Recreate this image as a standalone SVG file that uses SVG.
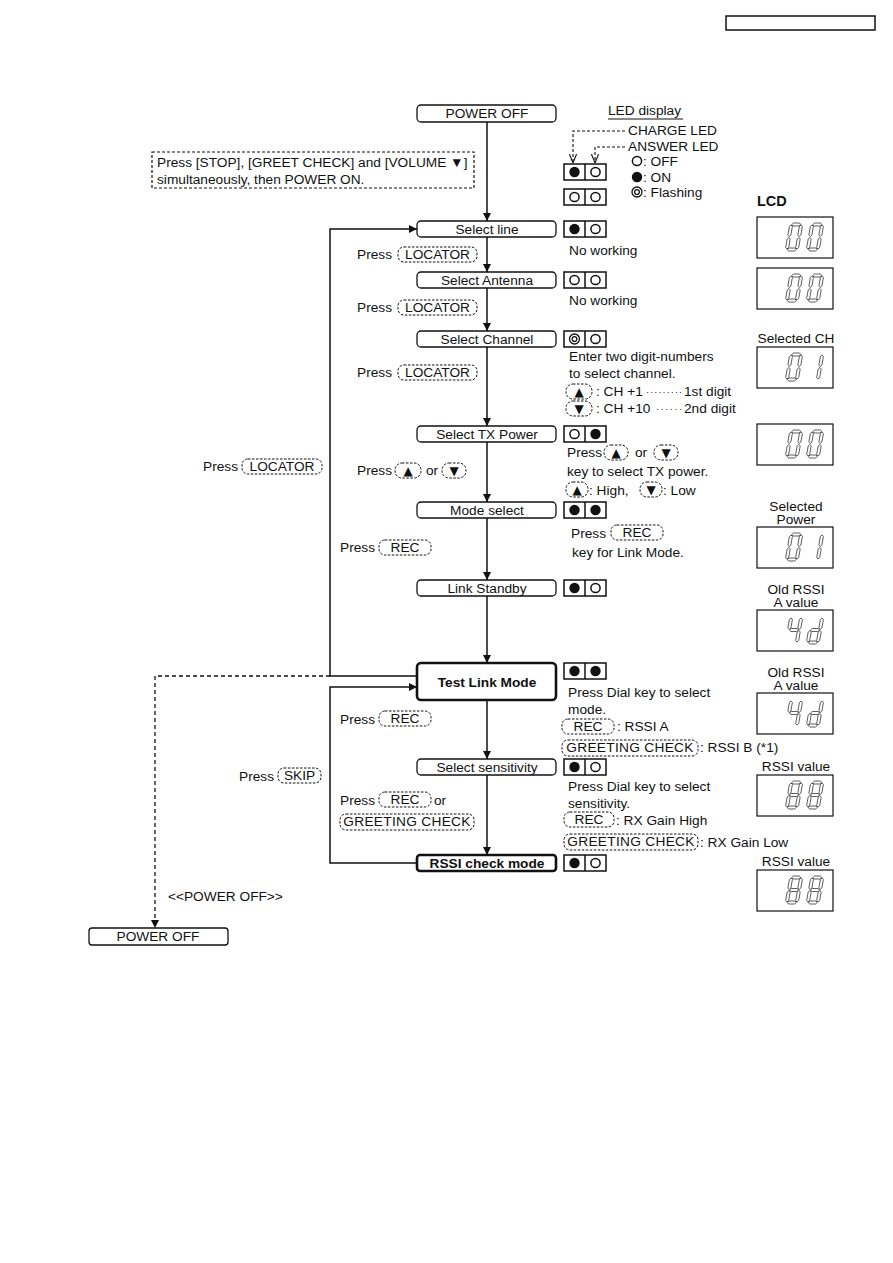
<svg xmlns="http://www.w3.org/2000/svg" xmlns:xlink="http://www.w3.org/1999/xlink" width="893" height="1263" viewBox="0 0 893 1263">
<style>
.t{font-family:"Liberation Sans",Arial,sans-serif;font-size:13.7px;fill:#111}
.c{text-anchor:middle}
.b{font-weight:bold}
.sym{font-family:"DejaVu Sans",sans-serif;font-size:12px;fill:#111;text-anchor:middle}
.box{fill:#fff;stroke:#111;stroke-width:1.3}
.bold{fill:#fff;stroke:#111;stroke-width:2.6}
.key{fill:none;stroke:#111;stroke-width:1;stroke-dasharray:2.5 1.5}
.ledbox{fill:#fff;stroke:#111;stroke-width:1.5}
.lcd{fill:#fff;stroke:#111;stroke-width:1.2}
.seg{fill:#fff;stroke:#222;stroke-width:0.7}
.conn{fill:none;stroke:#111;stroke-width:1.5}
.dash{fill:none;stroke:#111;stroke-width:1.3;stroke-dasharray:4 3}
.dash2{fill:none;stroke:#111;stroke-width:1.1;stroke-dasharray:3 2}
</style>
<defs>
<marker id="arr" viewBox="0 0 10 10" refX="10" refY="5" markerWidth="8" markerHeight="8" markerUnits="userSpaceOnUse" orient="auto"><path d="M0,0 L10,5 L0,10 z" fill="#111"/></marker>
<marker id="varr" viewBox="0 0 10 10" refX="10" refY="5" markerWidth="9" markerHeight="9" markerUnits="userSpaceOnUse" orient="auto"><path d="M0,1 L10,5 L0,9" fill="none" stroke="#111" stroke-width="1.2"/></marker>
<circle id="on" r="5.2" fill="#111"/>
<circle id="off" r="4.6" fill="#fff" stroke="#111" stroke-width="1.5"/>
<g id="fl"><circle r="5" fill="none" stroke="#111" stroke-width="1.3"/><circle r="2.4" fill="none" stroke="#111" stroke-width="1.3"/></g>
<polygon id="sa" class="seg" points="2,1.5 3.5,0 9.5,0 11,1.5 9.5,3 3.5,3"/>
<polygon id="sg" class="seg" points="2,14 3.5,12.5 9.5,12.5 11,14 9.5,15.5 3.5,15.5"/>
<polygon id="sd" class="seg" points="2,26.5 3.5,25 9.5,25 11,26.5 9.5,28 3.5,28"/>
<polygon id="sf" class="seg" points="1.5,2 3,3.5 3,12 1.5,13.5 0,12 0,3.5"/>
<polygon id="sb" class="seg" points="11.5,2 13,3.5 13,12 11.5,13.5 10,12 10,3.5"/>
<polygon id="se" class="seg" points="1.5,14.5 3,16 3,24.5 1.5,26 0,24.5 0,16"/>
<polygon id="sc" class="seg" points="11.5,14.5 13,16 13,24.5 11.5,26 10,24.5 10,16"/>
<g id="d0"><use href="#sa"/><use href="#sb"/><use href="#sc"/><use href="#sd"/><use href="#se"/><use href="#sf"/></g>
<g id="d1"><use href="#sb"/><use href="#sc"/></g>
<g id="d4"><use href="#sf"/><use href="#sg"/><use href="#sb"/><use href="#sc"/></g>
<g id="dd"><use href="#sb"/><use href="#sc"/><use href="#sd"/><use href="#se"/><use href="#sg"/></g>
<g id="d8"><use href="#sa"/><use href="#sb"/><use href="#sc"/><use href="#sd"/><use href="#se"/><use href="#sf"/><use href="#sg"/></g>
</defs>
<rect width="893" height="1263" fill="#fff"/>

<!-- header box -->
<rect x="726" y="16" width="149" height="14" fill="#fff" stroke="#111" stroke-width="1.5"/>

<!-- connectors -->
<g id="connectors">
<line class="conn" x1="487" y1="121" x2="487" y2="221" marker-end="url(#arr)"/>
<line class="conn" x1="487" y1="237" x2="487" y2="272" marker-end="url(#arr)"/>
<line class="conn" x1="487" y1="288" x2="487" y2="331" marker-end="url(#arr)"/>
<line class="conn" x1="487" y1="347" x2="487" y2="426" marker-end="url(#arr)"/>
<line class="conn" x1="487" y1="442" x2="487" y2="502" marker-end="url(#arr)"/>
<line class="conn" x1="487" y1="518" x2="487" y2="580" marker-end="url(#arr)"/>
<line class="conn" x1="487" y1="596" x2="487" y2="663" marker-end="url(#arr)"/>
<line class="conn" x1="487" y1="700" x2="487" y2="759" marker-end="url(#arr)"/>
<line class="conn" x1="487" y1="775" x2="487" y2="855" marker-end="url(#arr)"/>
<polyline class="conn" points="417,676 330,676 330,229 417,229" marker-end="url(#arr)"/>
<polyline class="conn" points="417,863 330,863 330,687 417,687" marker-end="url(#arr)"/>
<polyline class="dash" points="330,676 155,676 155,928" marker-end="url(#arr)"/>
<polyline class="dash2" points="625,131 573,131 573,163" marker-end="url(#varr)"/>
<polyline class="dash2" points="625,147 595,147 595,163" marker-end="url(#varr)"/>
</g>

<!-- nodes -->
<g id="n-poweroff-top"><rect class="box" x="417" y="105" width="139" height="17" rx="4"/><text class="t c" x="487" y="118">POWER OFF</text></g>

<g id="n-note"><rect class="dash" x="152" y="152" width="322" height="36" style="stroke-dasharray:3 2;stroke-width:1.2"/>
<text class="t" x="157" y="167">Press [STOP], [GREET CHECK] and [VOLUME ▼]</text>
<text class="t" x="157" y="184">simultaneously, then POWER ON.</text></g>

<g id="n-legend">
<text class="t" x="608" y="115">LED display</text><line x1="608" y1="119" x2="683" y2="119" stroke="#111" stroke-width="1.2"/>
<text class="t" x="628" y="135">CHARGE LED</text>
<text class="t" x="628" y="151">ANSWER LED</text>
<use href="#off" x="637" y="161"/><text class="t" x="643" y="166">: OFF</text>
<use href="#on" x="637" y="177"/><text class="t" x="643" y="182">: ON</text>
<use href="#fl" x="637" y="192"/><text class="t" x="643" y="197">: Flashing</text>
<rect class="ledbox" x="564" y="164" width="42" height="16"/><line x1="585" y1="164" x2="585" y2="180" stroke="#111" stroke-width="1.5"/><use href="#on" x="574.5" y="172"/><use href="#off" x="595.5" y="172"/>
<rect class="ledbox" x="564" y="189" width="42" height="16"/><line x1="585" y1="189" x2="585" y2="205" stroke="#111" stroke-width="1.5"/><use href="#off" x="574.5" y="197"/><use href="#off" x="595.5" y="197"/>
<text class="t b" x="757" y="206" style="font-size:14.5px">LCD</text>
</g>

<!-- Select line -->
<g id="n-selectline"><rect class="box" x="417" y="221" width="139" height="16" rx="4"/><text class="t c" x="487" y="234">Select line</text>
<rect class="ledbox" x="564" y="221" width="42" height="16"/><line x1="585" y1="221" x2="585" y2="237" stroke="#111" stroke-width="1.5"/><use href="#on" x="574.5" y="229"/><use href="#off" x="595.5" y="229"/>
<text class="t" x="569" y="255">No working</text>
<rect class="lcd" x="757" y="217" width="76" height="41"/><use href="#d0" transform="translate(790,223) skewX(-10)"/><use href="#d0" transform="translate(811,223) skewX(-10)"/>
</g>
<g id="k-loc1"><text class="t" x="357" y="259">Press</text><rect class="key" x="398" y="247" width="79" height="15" rx="6"/><text class="t c" x="437.5" y="259">LOCATOR</text></g>

<!-- Select Antenna -->
<g id="n-antenna"><rect class="box" x="417" y="272" width="139" height="16" rx="4"/><text class="t c" x="487" y="285">Select Antenna</text>
<rect class="ledbox" x="564" y="272" width="42" height="16"/><line x1="585" y1="272" x2="585" y2="288" stroke="#111" stroke-width="1.5"/><use href="#off" x="574.5" y="280"/><use href="#off" x="595.5" y="280"/>
<text class="t" x="569" y="305">No working</text>
<rect class="lcd" x="757" y="268" width="76" height="41"/><use href="#d0" transform="translate(790,274) skewX(-10)"/><use href="#d0" transform="translate(811,274) skewX(-10)"/>
</g>
<g id="k-loc2"><text class="t" x="357" y="312">Press</text><rect class="key" x="398" y="300" width="79" height="15" rx="6"/><text class="t c" x="437.5" y="312">LOCATOR</text></g>

<!-- Select Channel -->
<g id="n-channel"><rect class="box" x="417" y="331" width="139" height="16" rx="4"/><text class="t c" x="487" y="344">Select Channel</text>
<rect class="ledbox" x="564" y="331" width="42" height="16"/><line x1="585" y1="331" x2="585" y2="347" stroke="#111" stroke-width="1.5"/><use href="#fl" x="574.5" y="339"/><use href="#off" x="595.5" y="339"/>
<text class="t" x="569" y="361">Enter two digit-numbers</text>
<text class="t" x="569" y="378">to select channel.</text>
<rect class="key" x="566" y="384" width="26" height="15" rx="7"/><text class="sym" x="579" y="396">▲</text>
<text class="t" x="596" y="396">: CH +1</text><text class="t" x="646" y="395" style="font-size:9px" textLength="36" lengthAdjust="spacing">·········</text><text class="t" x="684" y="396">1st digit</text>
<rect class="key" x="566" y="401" width="26" height="15" rx="7"/><text class="sym" x="579" y="413">▼</text>
<text class="t" x="596" y="413">: CH +10</text><text class="t" x="656" y="412" style="font-size:9px" textLength="26" lengthAdjust="spacing">······</text><text class="t" x="684" y="413">2nd digit</text>
<text class="t c" x="796" y="343">Selected CH</text>
<rect class="lcd" x="757" y="347" width="76" height="41"/><use href="#d0" transform="translate(790,353) skewX(-10)"/><use href="#d1" transform="translate(811,353) skewX(-10)"/>
</g>
<g id="k-loc3"><text class="t" x="357" y="377">Press</text><rect class="key" x="398" y="365" width="79" height="15" rx="6"/><text class="t c" x="437.5" y="377">LOCATOR</text></g>

<!-- Select TX Power -->
<g id="n-txpower"><rect class="box" x="417" y="426" width="139" height="16" rx="4"/><text class="t c" x="487" y="439">Select TX Power</text>
<rect class="ledbox" x="564" y="426" width="42" height="16"/><line x1="585" y1="426" x2="585" y2="442" stroke="#111" stroke-width="1.5"/><use href="#off" x="574.5" y="434"/><use href="#on" x="595.5" y="434"/>
<text class="t" x="567" y="457">Press</text>
<rect class="key" x="604" y="445" width="24" height="15" rx="7"/><text class="sym" x="616" y="457">▲</text>
<text class="t" x="635" y="457">or</text>
<rect class="key" x="654" y="445" width="24" height="15" rx="7"/><text class="sym" x="666" y="457">▼</text>
<text class="t" x="567" y="476">key to select TX power.</text>
<rect class="key" x="566" y="482" width="22" height="15" rx="7"/><text class="sym" x="577" y="494">▲</text>
<text class="t" x="589" y="495">: High,</text>
<rect class="key" x="640" y="482" width="22" height="15" rx="7"/><text class="sym" x="651" y="494">▼</text>
<text class="t" x="663" y="495">: Low</text>
<rect class="lcd" x="757" y="424" width="76" height="41"/><use href="#d0" transform="translate(790,430) skewX(-10)"/><use href="#d0" transform="translate(811,430) skewX(-10)"/>
</g>
<g id="k-updown"><text class="t" x="357" y="475">Press</text>
<rect class="key" x="395" y="463" width="26" height="15" rx="7"/><text class="sym" x="408" y="475">▲</text>
<text class="t" x="426" y="475">or</text>
<rect class="key" x="442" y="463" width="24" height="15" rx="7"/><text class="sym" x="454" y="475">▼</text></g>
<g id="k-loc4"><text class="t" x="203" y="471">Press</text><rect class="key" x="242" y="459" width="80" height="15" rx="6"/><text class="t c" x="282" y="471">LOCATOR</text></g>

<!-- Mode select -->
<g id="n-mode"><rect class="box" x="417" y="502" width="139" height="16" rx="4"/><text class="t c" x="487" y="515">Mode select</text>
<rect class="ledbox" x="564" y="502" width="42" height="16"/><line x1="585" y1="502" x2="585" y2="518" stroke="#111" stroke-width="1.5"/><use href="#on" x="574.5" y="510"/><use href="#on" x="595.5" y="510"/>
<text class="t" x="571" y="538">Press</text><rect class="key" x="611" y="525" width="52" height="15" rx="6"/><text class="t c" x="637" y="537">REC</text>
<text class="t" x="572" y="557">key for Link Mode.</text>
<text class="t c" x="796" y="511">Selected</text><text class="t c" x="796" y="524">Power</text>
<rect class="lcd" x="757" y="527" width="76" height="41"/><use href="#d0" transform="translate(790,533) skewX(-10)"/><use href="#d1" transform="translate(811,533) skewX(-10)"/>
</g>
<g id="k-rec1"><text class="t" x="340" y="552">Press</text><rect class="key" x="379" y="540" width="52" height="15" rx="6"/><text class="t c" x="405" y="552">REC</text></g>

<!-- Link Standby -->
<g id="n-standby"><rect class="box" x="417" y="580" width="139" height="16" rx="4"/><text class="t c" x="487" y="593">Link Standby</text>
<rect class="ledbox" x="564" y="580" width="42" height="16"/><line x1="585" y1="580" x2="585" y2="596" stroke="#111" stroke-width="1.5"/><use href="#on" x="574.5" y="588"/><use href="#off" x="595.5" y="588"/>
<text class="t c" x="796" y="594">Old RSSI</text><text class="t c" x="796" y="607">A value</text>
<rect class="lcd" x="757" y="610" width="76" height="41"/><use href="#d4" transform="translate(790,616) skewX(-10)"/><use href="#dd" transform="translate(811,616) skewX(-10)"/>
</g>

<!-- Test Link Mode -->
<g id="n-testlink"><rect class="bold" x="417" y="663" width="139" height="37" rx="4"/><text class="t c b" x="487" y="687">Test Link Mode</text>
<rect class="ledbox" x="564" y="663" width="42" height="16"/><line x1="585" y1="663" x2="585" y2="679" stroke="#111" stroke-width="1.5"/><use href="#on" x="574.5" y="671"/><use href="#on" x="595.5" y="671"/>
<text class="t" x="568" y="697">Press Dial key to select</text>
<text class="t" x="568" y="714">mode.</text>
<rect class="key" x="562" y="719" width="52" height="15" rx="6"/><text class="t c" x="588" y="731">REC</text><text class="t" x="617" y="731">: RSSI A</text>
<rect class="key" x="562" y="740" width="136" height="16" rx="6"/><text class="t c" x="630" y="752" style="letter-spacing:0.3px">GREETING CHECK</text><text class="t" x="700" y="752">: RSSI B (*1)</text>
<text class="t c" x="796" y="677">Old RSSI</text><text class="t c" x="796" y="690">A value</text>
<rect class="lcd" x="757" y="693" width="76" height="41"/><use href="#d4" transform="translate(790,699) skewX(-10)"/><use href="#dd" transform="translate(811,699) skewX(-10)"/>
</g>
<g id="k-rec2"><text class="t" x="340" y="724">Press</text><rect class="key" x="379" y="711" width="52" height="15" rx="6"/><text class="t c" x="405" y="723">REC</text></g>
<g id="k-skip"><text class="t" x="239" y="781">Press</text><rect class="key" x="278" y="768" width="43" height="15" rx="6"/><text class="t c" x="299.5" y="780">SKIP</text></g>

<!-- Select sensitivity -->
<g id="n-sensitivity"><rect class="box" x="417" y="759" width="139" height="16" rx="4"/><text class="t c" x="487" y="772">Select sensitivity</text>
<rect class="ledbox" x="564" y="759" width="42" height="16"/><line x1="585" y1="759" x2="585" y2="775" stroke="#111" stroke-width="1.5"/><use href="#on" x="574.5" y="767"/><use href="#off" x="595.5" y="767"/>
<text class="t" x="568" y="791">Press Dial key to select</text>
<text class="t" x="568" y="808">sensitivity.</text>
<rect class="key" x="564" y="812" width="50" height="15" rx="6"/><text class="t c" x="589" y="824">REC</text><text class="t" x="616" y="825">: RX Gain High</text>
<rect class="key" x="564" y="834" width="134" height="16" rx="6"/><text class="t c" x="631" y="846" style="letter-spacing:0.3px">GREETING CHECK</text><text class="t" x="700" y="847">: RX Gain Low</text>
<text class="t c" x="796" y="771">RSSI value</text>
<rect class="lcd" x="757" y="775" width="76" height="41"/><use href="#d8" transform="translate(790,781) skewX(-10)"/><use href="#d8" transform="translate(811,781) skewX(-10)"/>
</g>
<g id="k-recgc"><text class="t" x="340" y="805">Press</text><rect class="key" x="379" y="792" width="52" height="15" rx="6"/><text class="t c" x="405" y="804">REC</text><text class="t" x="434" y="805">or</text>
<rect class="key" x="340" y="814" width="134" height="16" rx="6"/><text class="t c" x="407" y="826" style="letter-spacing:0.3px">GREETING CHECK</text></g>

<!-- RSSI check mode -->
<g id="n-rssi"><rect class="bold" x="417" y="855" width="139" height="16" rx="3"/><text class="t c b" x="487" y="868">RSSI check mode</text>
<rect class="ledbox" x="564" y="855" width="42" height="16"/><line x1="585" y1="855" x2="585" y2="871" stroke="#111" stroke-width="1.5"/><use href="#on" x="574.5" y="863"/><use href="#off" x="595.5" y="863"/>
<text class="t c" x="796" y="866">RSSI value</text>
<rect class="lcd" x="757" y="870" width="76" height="41"/><use href="#d8" transform="translate(790,876) skewX(-10)"/><use href="#d8" transform="translate(811,876) skewX(-10)"/>
</g>

<g id="l-poweroff"><text class="t" x="168" y="901">&lt;&lt;POWER OFF&gt;&gt;</text></g>
<g id="n-poweroff-bottom"><rect class="box" x="89" y="928" width="139" height="17" rx="3"/><text class="t c" x="158" y="941">POWER OFF</text></g>
</svg>
